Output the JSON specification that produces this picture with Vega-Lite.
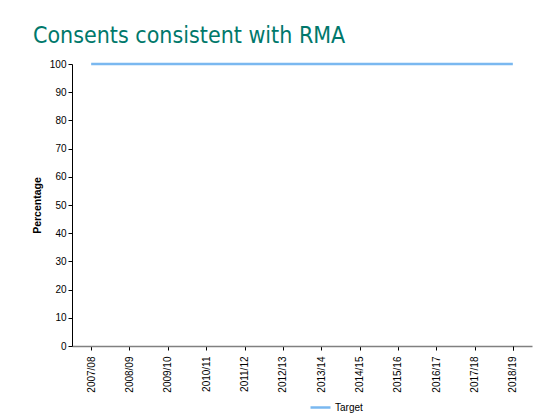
{
  "$schema": "https://vega.github.io/schema/vega-lite/v6.json",
  "width": 460,
  "height": 282,
  "autosize": {"type": "none"},
  "padding": {"left": 72, "top": 64, "right": 9, "bottom": 68},
  "background": "#ffffff",
  "title": {
    "text": "Consents consistent with RMA",
    "anchor": "start",
    "frame": "group",
    "dx": -39,
    "offset": 11,
    "font": "DejaVu Sans Condensed",
    "fontSize": 23,
    "fontWeight": "normal",
    "color": "#00786b"
  },
  "config": {
    "view": {"stroke": null},
    "axis": {
      "labelFont": "Liberation Sans, Arial, sans-serif",
      "labelFontSize": 10,
      "labelColor": "#000000",
      "titleFont": "Liberation Sans, Arial, sans-serif",
      "titleColor": "#000000",
      "tickColor": "#000000",
      "domainColor": "#000000",
      "grid": false
    },
    "legend": {
      "labelFont": "Liberation Sans, Arial, sans-serif",
      "labelFontSize": 10,
      "labelColor": "#000000"
    }
  },
  "data": {
    "values": [
      {"year": "2007/08", "value": 100, "series": "Target"},
      {"year": "2008/09", "value": 100, "series": "Target"},
      {"year": "2009/10", "value": 100, "series": "Target"},
      {"year": "2010/11", "value": 100, "series": "Target"},
      {"year": "2011/12", "value": 100, "series": "Target"},
      {"year": "2012/13", "value": 100, "series": "Target"},
      {"year": "2013/14", "value": 100, "series": "Target"},
      {"year": "2014/15", "value": 100, "series": "Target"},
      {"year": "2015/16", "value": 100, "series": "Target"},
      {"year": "2016/17", "value": 100, "series": "Target"},
      {"year": "2017/18", "value": 100, "series": "Target"},
      {"year": "2018/19", "value": 100, "series": "Target"}
    ]
  },
  "layer": [
    {
      "mark": {"type": "line", "opacity": 0},
      "encoding": {
        "x": {
          "field": "year", "type": "nominal", "sort": null,
          "scale": {"paddingInner": 0, "paddingOuter": 0},
          "axis": {"orient": "bottom", "title": null, "labels": false, "ticks": true, "tickSize": 4, "bandPosition": 0, "domain": true, "domainColor": "#808080", "domainWidth": 1.5}
        },
        "y": {
          "field": "value", "type": "quantitative",
          "scale": {"domain": [0, 100], "nice": false},
          "axis": {"values": [0, 10, 20, 30, 40, 50, 60, 70, 80, 90, 100], "tickSize": 4, "labelPadding": 2, "title": "Percentage", "titleFontSize": 10.5, "titleFontWeight": "bold", "titlePadding": 7}
        }
      }
    },
    {
      "mark": {"type": "line", "opacity": 0},
      "encoding": {
        "x": {
          "field": "year", "type": "nominal", "sort": null,
          "axis": {"orient": "bottom", "title": null, "labels": false, "ticks": true, "tickSize": 4, "bandPosition": 1, "values": ["2018/19"], "domain": false}
        },
        "y": {"field": "value", "type": "quantitative", "axis": null}
      }
    },
    {
      "mark": {"type": "line", "strokeWidth": 2.5},
      "encoding": {
        "x": {
          "field": "year", "type": "nominal", "sort": null,
          "axis": {"orient": "bottom", "title": null, "labelAngle": -90, "ticks": false, "domain": false, "labelPadding": 10}
        },
        "y": {"field": "value", "type": "quantitative", "axis": null},
        "color": {
          "field": "series", "type": "nominal",
          "scale": {"range": ["#7ab8f0"]},
          "legend": {"title": null, "orient": "none", "legendX": 237, "legendY": 332, "symbolType": "stroke", "symbolSize": 400, "symbolStrokeWidth": 2.5, "labelOffset": 3}
        }
      }
    }
  ],
  "resolve": {"axis": {"x": "independent", "y": "independent"}}
}
